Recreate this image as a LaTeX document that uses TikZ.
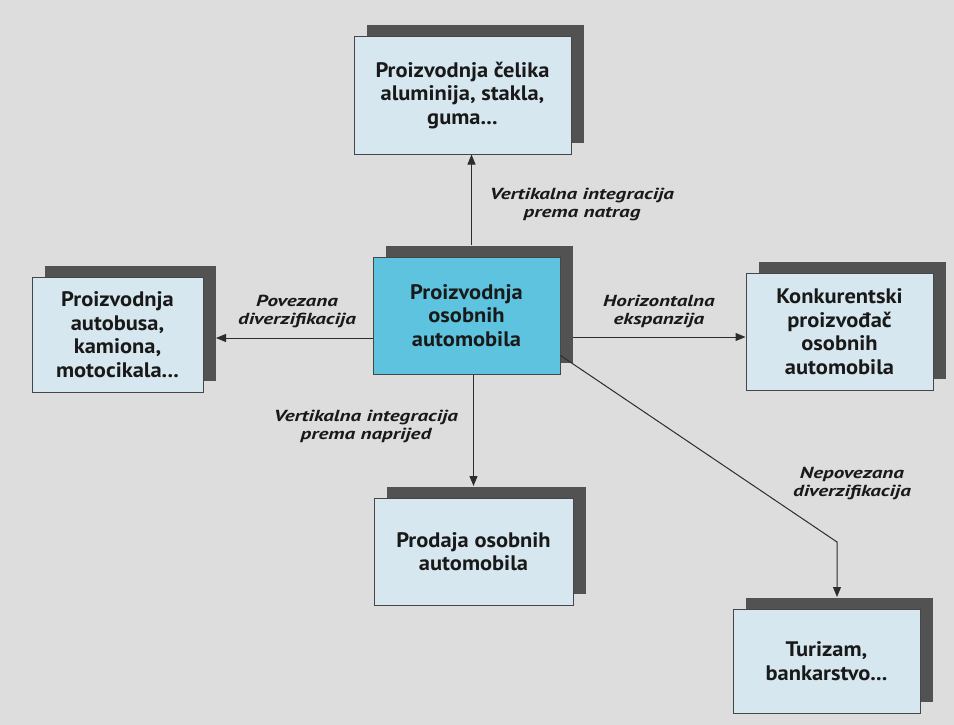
\documentclass[tikz,border=0pt]{standalone}
\usepackage{fontspec}
\setmainfont{PT Sans}
\newfontfamily\boxfont[FakeStretch=1.07]{PT Sans}
\newfontfamily\lblfont[FakeStretch=1.32]{PT Sans}
\usetikzlibrary{shadows,arrows.meta,calc}
\definecolor{bgc}{RGB}{221,221,221}
\definecolor{boxc}{RGB}{214,231,239}
\definecolor{mainc}{RGB}{94,195,222}
\definecolor{shc}{RGB}{82,82,82}
\definecolor{edgec}{RGB}{70,70,70}
\definecolor{txtc}{RGB}{25,25,25}
\definecolor{linec}{RGB}{45,45,45}
\tikzset{
  box/.style={draw=edgec, line width=1pt, fill=boxc, align=center, text=txtc,
    inner sep=0pt, font=\boxfont\fontsize{21}{23.5}\selectfont\bfseries,
    copy shadow={shadow xshift=12.5pt, shadow yshift=11.5pt, fill=shc, draw=none}},
  lbl/.style={align=center, text=txtc, inner sep=0pt,
    font=\lblfont\fontsize{16}{18}\selectfont\bfseries\itshape},
  arr/.style={draw=linec, line width=1pt, -{Triangle[length=10pt,width=8pt]}}
}
\begin{document}
\begin{tikzpicture}[x=1pt,y=-1pt]
\useasboundingbox (0,0) rectangle (954,725);
\fill[bgc] (0,0) rectangle (954,725);

\node[box, minimum width=217pt, minimum height=117pt] (T) at (462.5,95.5)
  {Proizvodnja čelika\\aluminija, stakla,\\guma...};
\node[box, fill=mainc, minimum width=187pt, minimum height=117pt] (C) at (466.5,315.5)
  {Proizvodnja\\osobnih\\automobila};
\node[box, minimum width=171pt, minimum height=115pt] (L) at (117.5,334.5)
  {Proizvodnja\\autobusa,\\kamiona,\\motocikala...};
\node[box, minimum width=187pt, minimum height=117pt] (R) at (839.5,331.5)
  {Konkurentski\\proizvođač\\osobnih\\automobila};
\node[box, minimum width=199pt, minimum height=107pt] (B) at (473.5,551.5)
  {Prodaja osobnih\\automobila};
\node[box, minimum width=187pt, minimum height=104pt] (BR) at (826.5,661)
  {Turizam,\\bankarstvo...};

% connectors
\draw[arr] ([xshift=5pt,yshift=11.5pt]C.north) -- ([xshift=5pt]C.north |- T.south);
\coordinate (lshadow) at ([xshift=12.5pt]L.east);
\draw[arr] ([yshift=-22.5pt]C.west) -- ([yshift=-22.5pt]C.west -| lshadow);
\draw[arr] ([xshift=12.5pt,yshift=-21.5pt]C.east) -- ([yshift=-21.5pt]C.east -| R.west);
\coordinate (btop) at ([yshift=11.5pt]B.north);
\draw[arr] ([xshift=7pt]C.south) -- ([xshift=7pt]C.south |- btop);
\coordinate (bend) at (837,542);
\coordinate (brtop) at ([yshift=11.5pt]BR.north);
\draw[arr] ([yshift=-40pt]C.east) -- (bend) -- (bend |- brtop);

% labels
\node[lbl] (l1) at (582,205) {Vertikalna integracija\\prema natrag};
\node[lbl] (l2) at (297,311) {Povezana\\diverzifikacija};
\node[lbl] (l3) at (659,311) {Horizontalna\\ekspanzija};
\node[lbl] (l4) at (366,426) {Vertikalna integracija\\prema naprijed};
\node[lbl] (l5) at (852,484) {Nepovezana\\diverzifikacija};
\end{tikzpicture}
\end{document}
